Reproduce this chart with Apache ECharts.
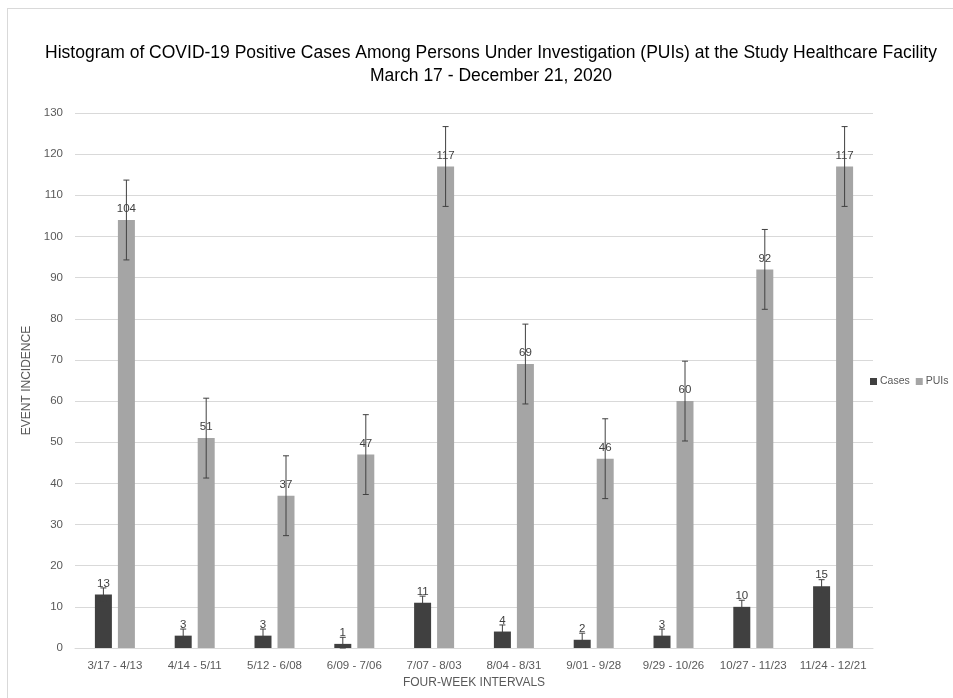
<!DOCTYPE html>
<html><head><meta charset="utf-8">
<script src="https://cdn.jsdelivr.net/npm/echarts@6/dist/echarts.min.js"></script>
<style>
html,body{margin:0;padding:0;background:#fff;}
#frame{position:absolute;left:7px;top:8px;width:950px;height:700px;border:1px solid #d9d9d9;box-sizing:border-box;}
#c{position:absolute;left:0;top:0;width:953px;height:698px;}
</style></head>
<body>
<div id="frame"></div>
<div id="c"></div>
<script>
const categories = ['3/17 - 4/13','4/14 - 5/11','5/12 - 6/08','6/09 - 7/06','7/07 - 8/03','8/04 - 8/31','9/01 - 9/28','9/29 - 10/26','10/27 - 11/23','11/24 - 12/21'];
const cases = [13, 3, 3, 1, 11, 4, 2, 3, 10, 15];
const puis = [104, 51, 37, 47, 117, 69, 46, 60, 92, 117];
const casesErr = [1.6, 1.6, 1.6, 1.6, 1.6, 1.6, 1.6, 1.6, 1.6, 1.6];
const puisErr = [9.7, 9.7, 9.7, 9.7, 9.7, 9.7, 9.7, 9.7, 9.7, 9.7];
const yTicks = {min: 0, max: 130, interval: 10};

const BAR_W = 17, GAP = 6;
const font = 'Liberation Sans';

function errSeries(name, values, errs, offset) {
  return {
    type: 'custom', name: name + ' err', silent: true, z: 5,
    data: values.map((v, i) => [i, v, errs[i]]),
    renderItem: function (params, api) {
      const i = api.value(0), v = api.value(1), e = api.value(2);
      const top = api.coord([i, v + e]);
      const bot = api.coord([i, Math.max(0, v - e)]);
      const x = top[0] + offset;
      const cap = 3;
      const st = {stroke: '#404040', lineWidth: 1};
      return {type: 'group', children: [
        {type: 'line', shape: {x1: x, y1: top[1], x2: x, y2: bot[1]}, style: st},
        {type: 'line', shape: {x1: x - cap, y1: top[1], x2: x + cap, y2: top[1]}, style: st},
        {type: 'line', shape: {x1: x - cap, y1: bot[1], x2: x + cap, y2: bot[1]}, style: st}
      ]};
    }
  };
}

const chart = echarts.init(document.getElementById('c'));
chart.setOption({
  animation: false,
  textStyle: {fontFamily: font},
  title: {
    text: 'Histogram of COVID-19 Positive Cases Among Persons Under Investigation (PUIs) at the Study Healthcare Facility\nMarch 17 - December 21, 2020',
    left: 486, top: 37, textAlign: 'center',
    textStyle: {fontFamily: font, fontSize: 17.5, fontWeight: 'normal', color: '#000', lineHeight: 23}
  },
  legend: {
    orient: 'horizontal', left: 870, top: 376, width: 120, padding: 0,
    itemWidth: 7, itemHeight: 7, itemGap: 6, icon: 'rect',
    textStyle: {fontFamily: font, fontSize: 10.5, color: '#595959', padding: [0,0,0,-2]},
    data: ['Cases', 'PUIs']
  },
  grid: {left: 75, right: 80, top: 113, bottom: 50},
  xAxis: {
    type: 'category', data: categories,
    name: 'FOUR-WEEK INTERVALS', nameLocation: 'middle', nameGap: 28,
    nameTextStyle: {fontFamily: font, fontSize: 12, color: '#595959'},
    axisLine: {lineStyle: {color: '#d9d9d9'}},
    axisTick: {show: false},
    axisLabel: {interval: 0, fontFamily: font, fontSize: 11.5, color: '#595959', margin: 12}
  },
  yAxis: {
    type: 'value', min: yTicks.min, max: yTicks.max, interval: yTicks.interval,
    name: 'EVENT INCIDENCE', nameLocation: 'middle', nameGap: 27,
    nameTextStyle: {fontFamily: font, fontSize: 12, color: '#595959'},
    axisLine: {show: false}, axisTick: {show: false},
    axisLabel: {fontFamily: font, fontSize: 11.5, color: '#595959', margin: 12},
    splitLine: {lineStyle: {color: '#d9d9d9', width: 1}}
  },
  series: [
    {name: 'Cases', type: 'bar', data: cases, barWidth: BAR_W, barGap: (GAP / BAR_W * 100) + '%',
     itemStyle: {color: '#404040'},
     label: {show: true, position: 'top', distance: 5, fontFamily: font, fontSize: 11.5, color: '#404040'}},
    {name: 'PUIs', type: 'bar', data: puis, barWidth: BAR_W,
     itemStyle: {color: '#a5a5a5'},
     label: {show: true, position: 'top', distance: 5, fontFamily: font, fontSize: 11.5, color: '#404040'}},
    errSeries('Cases', cases, casesErr, -(BAR_W + GAP) / 2),
    errSeries('PUIs', puis, puisErr, (BAR_W + GAP) / 2)
  ]
});
</script>
</body></html>
